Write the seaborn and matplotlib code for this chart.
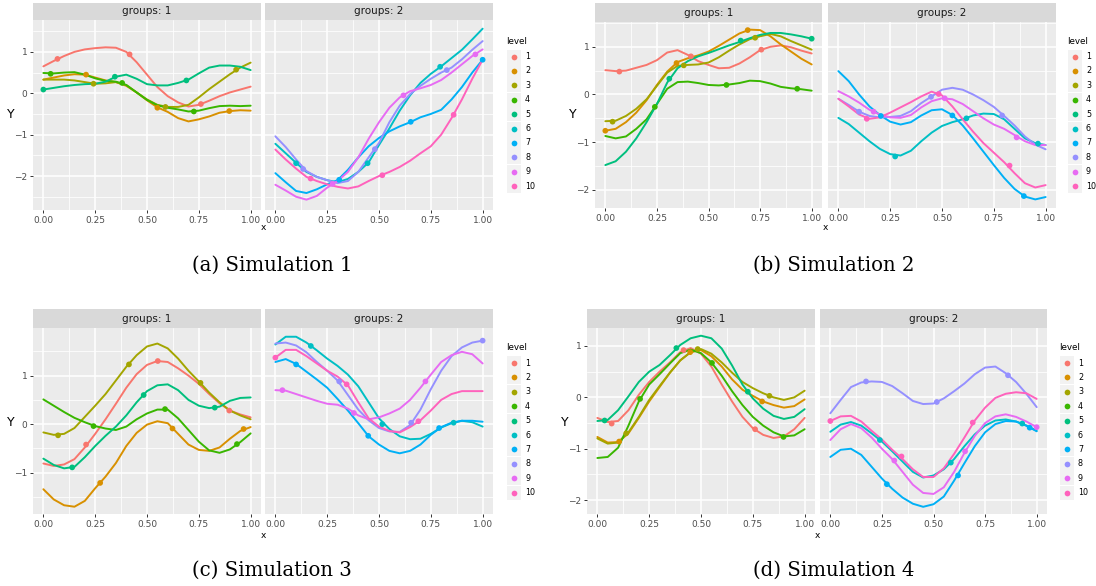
import numpy as np
import pandas as pd
import matplotlib
matplotlib.use("Agg")
import matplotlib.pyplot as plt
from matplotlib.patches import Rectangle
import seaborn as sns

# ---------------- data ----------------
X = [0.00, 0.05, 0.10, 0.15, 0.20, 0.25, 0.30, 0.35, 0.40, 0.45, 0.50,
     0.55, 0.60, 0.65, 0.70, 0.75, 0.80, 0.85, 0.90, 0.95, 1.00]
LEVELS = [str(i) for i in range(1, 11)]
PALETTE = ["#F8766D", "#D89000", "#A3A500", "#39B600", "#00BF7D",
           "#00BFC4", "#00B0F6", "#9590FF", "#E76BF3", "#FF62BC"]
XTICKS = [0.0, 0.25, 0.5, 0.75, 1.0]
XTICKLABELS = ["0.00", "0.25", "0.50", "0.75", "1.00"]
CAPTIONS = ["(a) Simulation 1", "(b) Simulation 2", "(c) Simulation 3", "(d) Simulation 4"]

sim1_curves = {
    1: [0.65, 0.78, 0.90, 1.00, 1.06, 1.09, 1.11, 1.10, 1.00, 0.75, 0.45, 0.15, -0.07, -0.22, -0.32, -0.28, -0.18, -0.07, 0.02, 0.09, 0.16],
    2: [0.33, 0.38, 0.43, 0.46, 0.45, 0.38, 0.31, 0.27, 0.18, 0.02, -0.17, -0.34, -0.45, -0.60, -0.68, -0.63, -0.56, -0.47, -0.43, -0.41, -0.42],
    3: [0.33, 0.33, 0.33, 0.31, 0.27, 0.23, 0.24, 0.27, 0.20, 0.02, -0.15, -0.28, -0.33, -0.33, -0.28, -0.10, 0.10, 0.28, 0.46, 0.62, 0.74],
    4: [0.49, 0.48, 0.50, 0.51, 0.45, 0.36, 0.30, 0.28, 0.20, 0.02, -0.16, -0.29, -0.35, -0.39, -0.44, -0.42, -0.36, -0.31, -0.30, -0.31, -0.30],
    5: [0.09, 0.13, 0.17, 0.20, 0.22, 0.23, 0.28, 0.40, 0.45, 0.35, 0.22, 0.19, 0.19, 0.25, 0.33, 0.48, 0.62, 0.67, 0.67, 0.64, 0.56],
    6: [-1.22, -1.45, -1.68, -1.90, -2.02, -2.10, -2.15, -2.07, -1.90, -1.67, -1.25, -0.85, -0.42, -0.05, 0.25, 0.47, 0.65, 0.85, 1.05, 1.30, 1.56],
    7: [-1.93, -2.15, -2.36, -2.41, -2.32, -2.20, -2.10, -1.85, -1.55, -1.28, -1.08, -0.92, -0.80, -0.70, -0.58, -0.50, -0.40, -0.15, 0.15, 0.50, 0.81],
    8: [-1.04, -1.30, -1.60, -1.88, -2.02, -2.10, -2.17, -2.12, -1.90, -1.55, -1.20, -0.70, -0.30, -0.02, 0.18, 0.35, 0.50, 0.62, 0.82, 1.05, 1.26],
    9: [-2.21, -2.35, -2.50, -2.57, -2.48, -2.28, -2.12, -1.90, -1.55, -1.10, -0.70, -0.35, -0.10, 0.05, 0.12, 0.20, 0.32, 0.50, 0.70, 0.90, 1.06],
    10: [-1.36, -1.60, -1.82, -2.02, -2.12, -2.20, -2.26, -2.30, -2.25, -2.12, -2.00, -1.90, -1.78, -1.63, -1.45, -1.28, -1.00, -0.60, -0.15, 0.35, 0.81],
}
sim1_pts_x = {1: [0.068, 0.416, 0.76], 2: [0.206, 0.55, 0.897], 3: [0.242, 0.589, 0.93],
              4: [0.035, 0.38, 0.726], 5: [0.0, 0.345, 0.69], 6: [0.10, 0.445, 0.795],
              7: [0.308, 0.653, 1.0], 8: [0.134, 0.48, 0.827], 9: [0.276, 0.618, 0.965],
              10: [0.17, 0.516, 0.86]}
sim1_pts_y = {1: [0.83, 0.94, -0.26], 2: [0.45, -0.35, -0.43], 3: [0.23, -0.33, 0.57],
              4: [0.47, 0.25, -0.44], 5: [0.09, 0.40, 0.31], 6: [-1.69, -1.69, 0.64],
              7: [-2.09, -0.69, 0.81], 8: [-1.83, -1.35, 0.56], 9: [-2.19, -0.05, 0.94],
              10: [-2.06, -1.98, -0.52]}

sim2_curves = {
    1: [0.51, 0.49, 0.50, 0.56, 0.62, 0.72, 0.88, 0.93, 0.83, 0.70, 0.62, 0.55, 0.56, 0.65, 0.78, 0.93, 1.00, 1.03, 0.99, 0.92, 0.86],
    2: [-0.76, -0.72, -0.58, -0.38, -0.12, 0.20, 0.48, 0.68, 0.76, 0.82, 0.90, 1.02, 1.15, 1.28, 1.36, 1.35, 1.22, 1.05, 0.90, 0.75, 0.63],
    3: [-0.56, -0.55, -0.45, -0.30, -0.10, 0.18, 0.46, 0.60, 0.62, 0.63, 0.67, 0.78, 0.92, 1.05, 1.16, 1.22, 1.27, 1.22, 1.12, 1.03, 0.94],
    4: [-0.87, -0.92, -0.88, -0.72, -0.52, -0.20, 0.12, 0.26, 0.27, 0.24, 0.20, 0.19, 0.21, 0.24, 0.29, 0.28, 0.23, 0.16, 0.13, 0.11, 0.08],
    5: [-1.48, -1.40, -1.20, -0.92, -0.58, -0.20, 0.25, 0.55, 0.70, 0.80, 0.87, 0.95, 1.03, 1.10, 1.18, 1.25, 1.29, 1.29, 1.26, 1.22, 1.17],
    6: [-0.49, -0.62, -0.80, -0.98, -1.14, -1.25, -1.28, -1.18, -0.98, -0.80, -0.66, -0.58, -0.52, -0.44, -0.40, -0.41, -0.52, -0.72, -0.92, -1.02, -1.06],
    7: [0.49, 0.28, 0.00, -0.25, -0.43, -0.57, -0.63, -0.58, -0.44, -0.33, -0.31, -0.43, -0.65, -0.92, -1.20, -1.48, -1.75, -1.98, -2.14, -2.20, -2.15],
    8: [-0.09, -0.22, -0.36, -0.45, -0.48, -0.47, -0.45, -0.35, -0.18, -0.04, 0.10, 0.14, 0.10, 0.00, -0.12, -0.26, -0.45, -0.65, -0.88, -1.05, -1.15],
    9: [0.07, -0.04, -0.17, -0.32, -0.42, -0.48, -0.49, -0.43, -0.27, -0.14, -0.08, -0.10, -0.20, -0.35, -0.50, -0.63, -0.72, -0.85, -0.98, -1.06, -1.06],
    10: [-0.09, -0.25, -0.42, -0.51, -0.48, -0.38, -0.27, -0.16, -0.04, 0.06, -0.02, -0.25, -0.52, -0.78, -1.02, -1.22, -1.42, -1.65, -1.86, -1.95, -1.90],
}
sim2_pts_x = {1: [0.068, 0.415, 0.756], 2: [0.0, 0.345, 0.69], 3: [0.035, 0.38, 0.726],
              4: [0.24, 0.587, 0.93], 5: [0.31, 0.656, 1.0], 6: [0.274, 0.618, 0.963],
              7: [0.205, 0.55, 0.895], 8: [0.10, 0.447, 0.79], 9: [0.17, 0.513, 0.86],
              10: [0.137, 0.484, 0.826]}
sim2_pts_y = {1: [0.48, 0.80, 0.94], 2: [-0.76, 0.66, 1.35], 3: [-0.57, 0.61, 1.19],
              4: [-0.26, 0.20, 0.12], 5: [0.33, 1.13, 1.17], 6: [-1.30, -0.50, -1.03],
              7: [-0.45, -0.44, -2.13], 8: [-0.36, -0.05, -0.44], 9: [-0.36, -0.08, -0.90],
              10: [-0.51, 0.01, -1.49]}

sim3_curves = {
    1: [-0.81, -0.86, -0.83, -0.72, -0.48, -0.20, 0.10, 0.42, 0.75, 1.03, 1.22, 1.30, 1.28, 1.15, 1.00, 0.83, 0.62, 0.43, 0.28, 0.20, 0.14],
    2: [-1.34, -1.55, -1.67, -1.70, -1.58, -1.32, -1.08, -0.80, -0.45, -0.18, -0.01, 0.06, 0.02, -0.20, -0.42, -0.53, -0.55, -0.48, -0.30, -0.14, -0.06],
    3: [-0.17, -0.22, -0.20, -0.08, 0.15, 0.38, 0.62, 0.90, 1.18, 1.42, 1.60, 1.66, 1.56, 1.35, 1.10, 0.88, 0.65, 0.45, 0.28, 0.18, 0.10],
    4: [0.51, 0.38, 0.25, 0.13, 0.04, -0.04, -0.09, -0.12, -0.05, 0.10, 0.22, 0.30, 0.30, 0.12, -0.12, -0.36, -0.54, -0.59, -0.52, -0.37, -0.19],
    5: [-0.71, -0.84, -0.91, -0.88, -0.68, -0.45, -0.24, -0.05, 0.18, 0.45, 0.68, 0.80, 0.82, 0.70, 0.50, 0.38, 0.33, 0.36, 0.48, 0.54, 0.55],
    6: [1.64, 1.80, 1.80, 1.68, 1.52, 1.35, 1.20, 1.02, 0.78, 0.45, 0.12, -0.10, -0.25, -0.31, -0.30, -0.20, -0.07, 0.02, 0.07, 0.04, -0.05],
    7: [1.28, 1.34, 1.24, 1.08, 0.92, 0.75, 0.52, 0.28, 0.02, -0.25, -0.42, -0.55, -0.60, -0.55, -0.42, -0.22, -0.06, 0.03, 0.07, 0.07, 0.05],
    8: [1.66, 1.68, 1.62, 1.48, 1.28, 1.10, 0.90, 0.60, 0.30, 0.08, -0.08, -0.15, -0.16, -0.02, 0.30, 0.72, 1.10, 1.40, 1.58, 1.68, 1.72],
    9: [0.70, 0.69, 0.62, 0.55, 0.48, 0.42, 0.40, 0.32, 0.18, 0.10, 0.14, 0.22, 0.32, 0.50, 0.75, 1.02, 1.28, 1.42, 1.49, 1.44, 1.25],
    10: [1.37, 1.53, 1.53, 1.40, 1.25, 1.10, 0.98, 0.80, 0.45, 0.12, -0.05, -0.14, -0.17, -0.06, 0.08, 0.28, 0.50, 0.62, 0.68, 0.68, 0.68],
}
sim3_pts_x = {1: [0.206, 0.552, 0.897], 2: [0.274, 0.623, 0.966], 3: [0.071, 0.413, 0.758],
              4: [0.242, 0.587, 0.934], 5: [0.139, 0.484, 0.827], 6: [0.171, 0.516, 0.86],
              7: [0.10, 0.448, 0.79], 8: [0.308, 0.655, 1.0], 9: [0.034, 0.379, 0.724],
              10: [0.0, 0.344, 0.69]}
sim3_pts_y = {1: [-0.42, 1.30, 0.28], 2: [-1.21, -0.09, -0.10], 3: [-0.23, 1.23, 0.85],
              4: [-0.04, 0.31, -0.41], 5: [-0.89, 0.60, 0.34], 6: [1.61, 0.00, 0.03],
              7: [1.23, -0.24, -0.08], 8: [0.88, 0.03, 1.72], 9: [0.70, 0.23, 0.88],
              10: [1.37, 0.82, 0.06]}

sim4_curves = {
    1: [-0.40, -0.48, -0.46, -0.25, 0.05, 0.30, 0.50, 0.68, 0.88, 0.96, 0.85, 0.60, 0.25, -0.08, -0.38, -0.60, -0.73, -0.79, -0.76, -0.62, -0.40],
    2: [-0.77, -0.88, -0.87, -0.70, -0.40, -0.08, 0.20, 0.48, 0.72, 0.88, 0.92, 0.80, 0.60, 0.35, 0.15, 0.03, -0.08, -0.15, -0.20, -0.17, -0.04],
    3: [-0.80, -0.90, -0.88, -0.68, -0.38, -0.05, 0.22, 0.48, 0.72, 0.88, 0.94, 0.85, 0.68, 0.48, 0.30, 0.18, 0.08, 0.00, -0.05, 0.00, 0.13],
    4: [-1.18, -1.16, -0.98, -0.55, -0.08, 0.25, 0.45, 0.66, 0.86, 0.93, 0.86, 0.68, 0.42, 0.12, -0.15, -0.38, -0.55, -0.68, -0.76, -0.74, -0.62],
    5: [-0.46, -0.44, -0.25, 0.02, 0.30, 0.50, 0.63, 0.82, 1.02, 1.15, 1.20, 1.15, 0.95, 0.62, 0.25, -0.02, -0.22, -0.36, -0.42, -0.38, -0.23],
    6: [-0.67, -0.53, -0.48, -0.55, -0.70, -0.86, -1.05, -1.25, -1.45, -1.56, -1.52, -1.40, -1.20, -0.95, -0.72, -0.55, -0.45, -0.43, -0.47, -0.55, -0.65],
    7: [-1.16, -1.02, -1.00, -1.12, -1.35, -1.58, -1.78, -1.95, -2.07, -2.13, -2.08, -1.93, -1.62, -1.28, -0.95, -0.68, -0.52, -0.46, -0.47, -0.55, -0.66],
    8: [-0.31, -0.05, 0.20, 0.29, 0.31, 0.30, 0.22, 0.08, -0.07, -0.13, -0.12, -0.02, 0.12, 0.27, 0.45, 0.58, 0.60, 0.47, 0.30, 0.07, -0.19],
    9: [-0.83, -0.62, -0.52, -0.60, -0.78, -1.00, -1.20, -1.45, -1.70, -1.86, -1.88, -1.75, -1.45, -1.08, -0.75, -0.50, -0.37, -0.33, -0.38, -0.47, -0.58],
    10: [-0.46, -0.37, -0.36, -0.47, -0.65, -0.82, -1.02, -1.20, -1.40, -1.55, -1.55, -1.38, -1.10, -0.78, -0.45, -0.20, -0.01, 0.07, 0.10, 0.08, -0.03],
}
sim4_pts_x = {1: [0.069, 0.416, 0.761], 2: [0.105, 0.448, 0.795], 3: [0.139, 0.484, 0.83],
              4: [0.206, 0.553, 0.898], 5: [0.035, 0.381, 0.726], 6: [0.24, 0.584, 0.93],
              7: [0.274, 0.619, 0.966], 8: [0.173, 0.516, 0.861], 9: [0.31, 0.653, 1.0],
              10: [0.0, 0.345, 0.69]}
sim4_pts_y = {1: [-0.51, 0.92, -0.62], 2: [-0.86, 0.88, -0.08], 3: [-0.70, 0.94, 0.03],
              4: [-0.03, 0.67, -0.77], 5: [-0.45, 0.96, 0.11], 6: [-0.83, -1.27, -0.51],
              7: [-1.69, -1.52, -0.59], 8: [0.31, -0.09, 0.43], 9: [-1.23, -1.05, -0.58],
              10: [-0.46, -1.15, -0.49]}

SIMS = [
    (sim1_curves, sim1_pts_x, sim1_pts_y),
    (sim2_curves, sim2_pts_x, sim2_pts_y),
    (sim3_curves, sim3_pts_x, sim3_pts_y),
    (sim4_curves, sim4_pts_x, sim4_pts_y),
]

# ---------------- layout (pixels) ----------------
W, H = 1096, 586
LAYOUT = [
    dict(ax1=(33, 261), ax2=(265, 493), top=20, bottom=210, strip_top=3,
         ylim=(-2.82, 1.77), yticks=[-2, -1, 0, 1], ylab=(11, 115), xlab=(263, 228),
         leg_x=507, leg_title_y=41, leg_y0=56.5, leg_step=14.4, cap=(272, 265)),
    dict(ax1=(595, 822), ax2=(828, 1056), top=22, bottom=208, strip_top=3,
         ylim=(-2.38, 1.52), yticks=[-2, -1, 0, 1], ylab=(573, 115), xlab=(825, 228),
         leg_x=1068, leg_title_y=41, leg_y0=56.5, leg_step=14.4, cap=(834, 265)),
    dict(ax1=(33, 261), ax2=(265, 493), top=328, bottom=514, strip_top=309,
         ylim=(-1.85, 1.98), yticks=[-1, 0, 1], ylab=(11, 422), xlab=(263, 535),
         leg_x=507, leg_title_y=347, leg_y0=363, leg_step=14.4, cap=(272, 570)),
    dict(ax1=(587, 815), ax2=(820, 1047), top=328, bottom=514, strip_top=309,
         ylim=(-2.27, 1.35), yticks=[-2, -1, 0, 1], ylab=(565, 422), xlab=(817, 535),
         leg_x=1060, leg_title_y=347, leg_y0=363, leg_step=14.4, cap=(834, 570)),
]

sns.set_theme(style="darkgrid")
plt.rcParams["font.family"] = ["DejaVu Sans"]

fig = plt.figure(figsize=(W / 100, H / 100), dpi=100)
fig.patch.set_facecolor("white")
pal = dict(zip(LEVELS, PALETTE))


def box(x0, y0, x1, y1):
    return [x0 / W, 1 - y1 / H, (x1 - x0) / W, (y1 - y0) / H]


overlay = fig.add_axes([0, 0, 1, 1], zorder=10)
overlay.set_xlim(0, W)
overlay.set_ylim(H, 0)
overlay.axis("off")
overlay.patch.set_alpha(0)

for (curves, px, py), L, cap in zip(SIMS, LAYOUT, CAPTIONS):
    rows = []
    for lev, vals in curves.items():
        for xv, yv in zip(X, vals):
            rows.append((str(lev), 1 if lev <= 5 else 2, xv, yv))
    df = pd.DataFrame(rows, columns=["level", "group", "x", "y"])
    prow = []
    for lev in px:
        for xv, yv in zip(px[lev], py[lev]):
            prow.append((str(lev), 1 if lev <= 5 else 2, xv, yv))
    pdf = pd.DataFrame(prow, columns=["level", "group", "x", "y"])

    for g, key in ((1, "ax1"), (2, "ax2")):
        x0, x1 = L[key]
        ax = fig.add_axes(box(x0, L["top"], x1, L["bottom"]))
        ax.set_facecolor("#EBEBEB")
        for s in ax.spines.values():
            s.set_visible(False)
        sub = df[df.group == g]
        sns.lineplot(data=sub, x="x", y="y", hue="level", palette=pal,
                     hue_order=[l for l in LEVELS if l in set(sub.level)],
                     estimator=None, sort=False, legend=False, ax=ax, linewidth=1.4,
                     solid_joinstyle="round", solid_capstyle="round")
        psub = pdf[pdf.group == g]
        sns.scatterplot(data=psub, x="x", y="y", hue="level", palette=pal,
                        hue_order=[l for l in LEVELS if l in set(psub.level)],
                        s=17, linewidth=0, legend=False, ax=ax, zorder=4)
        ax.set_xlim(-0.05, 1.05)
        ax.set_ylim(*L["ylim"])
        ax.set_xticks(XTICKS)
        ax.set_xticklabels(XTICKLABELS)
        ax.set_xticks([0.125, 0.375, 0.625, 0.875], minor=True)
        ax.set_yticks(L["yticks"])
        ax.set_yticklabels(["\u2212" + str(-t) if t < 0 else str(t) for t in L["yticks"]])
        lo, hi = L["ylim"]
        ax.set_yticks([v + 0.5 for v in range(-3, 2) if lo < v + 0.5 < hi], minor=True)
        ax.grid(which="major", color="white", linewidth=1.1)
        ax.grid(which="minor", color="white", linewidth=0.55)
        ax.set_axisbelow(True)
        ax.tick_params(which="major", length=2.5, width=0.7, color="#333333",
                       labelsize=6.5, labelcolor="#4D4D4D", pad=1.5,
                       bottom=True, left=(g == 1), labelleft=(g == 1))
        ax.tick_params(which="minor", length=0)
        ax.set_xlabel("")
        ax.set_ylabel("")
        # facet strip
        st = fig.add_axes(box(x0, L["strip_top"], x1, L["top"]))
        st.set_facecolor("#D9D9D9")
        st.set_xticks([])
        st.set_yticks([])
        for s in st.spines.values():
            s.set_visible(False)
        st.text(0.5, 0.5, f"groups: {g}", ha="center", va="center",
                fontsize=7.5, color="#1A1A1A", transform=st.transAxes)

    # axis labels
    overlay.text(*L["ylab"], "Y", ha="center", va="center", fontsize=9, color="black")
    overlay.text(*L["xlab"], "x", ha="center", va="center", fontsize=6.5, color="black")

    # legend
    lx = L["leg_x"]
    overlay.text(lx - 1, L["leg_title_y"], "level", ha="left", va="center", fontsize=6.3, color="black")
    for i, lev in enumerate(LEVELS):
        ky = L["leg_y0"] + i * L["leg_step"]
        kx = lx + 7
        overlay.add_patch(Rectangle((kx - 7, ky - 7), 14, 14, facecolor="#F2F2F2", edgecolor="none"))
        overlay.scatter([kx], [ky], s=17, color=pal[lev], linewidths=0)
        overlay.text(kx + 11, ky, lev, ha="left", va="center", fontsize=5.8, color="black")

    # caption
    overlay.text(L["cap"][0], L["cap"][1], cap, ha="center", va="center",
                 fontsize=14.2, family="DejaVu Serif", color="black")

fig.savefig("out.png", dpi=100, facecolor="white")
